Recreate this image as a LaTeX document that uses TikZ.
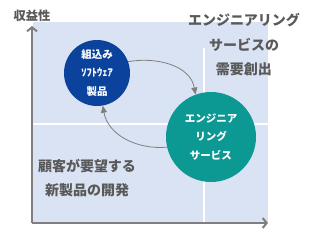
\documentclass[tikz,border=0pt]{standalone}
\usepackage{fontspec}
\setmainfont{Noto Sans CJK JP}
\usetikzlibrary{arrows.meta,positioning}
\definecolor{bgblue}{HTML}{DAE3F3}
\definecolor{prodblue}{HTML}{0B429C}
\definecolor{servteal}{HTML}{0C9893}
\definecolor{axisgray}{HTML}{7F7F7F}
\definecolor{textgray}{HTML}{595959}

\begin{document}
\begin{tikzpicture}[x=1pt, y=1pt,
			>={Triangle[length=7pt, width=6pt]},
			axis/.style={-{Straight Barb[length=4pt, width=10pt]}, axisgray, line width=2pt},
			circ/.style={circle, inner sep=0pt, text=white, align=center, font=\bfseries\fontsize{10.5}{18.5}\selectfont},
			lbl/.style={text=textgray, align=center, font=\bfseries\fontsize{14}{24.5}\selectfont}
			]
			
			\useasboundingbox (0,0) rectangle (314,-242);
			
			% Achtergrond met kwadranten
			\fill[bgblue] (33,-22) rectangle (268,-222);
			\draw[white, line width=2pt] (33,-124) -- (268,-124);
			\draw[white, line width=2pt] (204,-48) -- (204,-222);
			
			% Assen
			\coordinate (O) at (32,-223);
			\coordinate (Ytop) at (32,-26);
			\coordinate (Xend) at (268,-223);
			\draw[axis] (O) -- (Ytop);
			\draw[axis] (O) -- (Xend);
			\node[text=textgray, font=\bfseries\fontsize{12.3}{14}\selectfont] (Profit) [above=1pt of Ytop] {収益性};
			
			% Cirkels
			\node[circ, fill=prodblue, minimum size=66pt] (Embedded) at (97,-73) {組込み\\ｿﾌﾄｳｪｱ\\製品};
			\node[circ, fill=servteal, minimum size=90pt] (Service) at (211,-137) {エンジニア\\リング\\サービス};
			
			% Teksten in de kwadranten
			\node[lbl] (Demand) at (244,-45) {エンジニアリング\\サービスの\\需要創出};
			\node[lbl] (NewProd) at (87,-178) {顧客が要望する\\新製品の開発};
			
			% Cyclus
			\draw[->, axisgray, line width=0.8pt] (Embedded.20) to[out=10, in=100] (Service.110);
			\draw[->, axisgray, line width=0.8pt] (Service.193) to[out=185, in=-80] (Embedded.280);
			
		\end{tikzpicture}
\end{document}
